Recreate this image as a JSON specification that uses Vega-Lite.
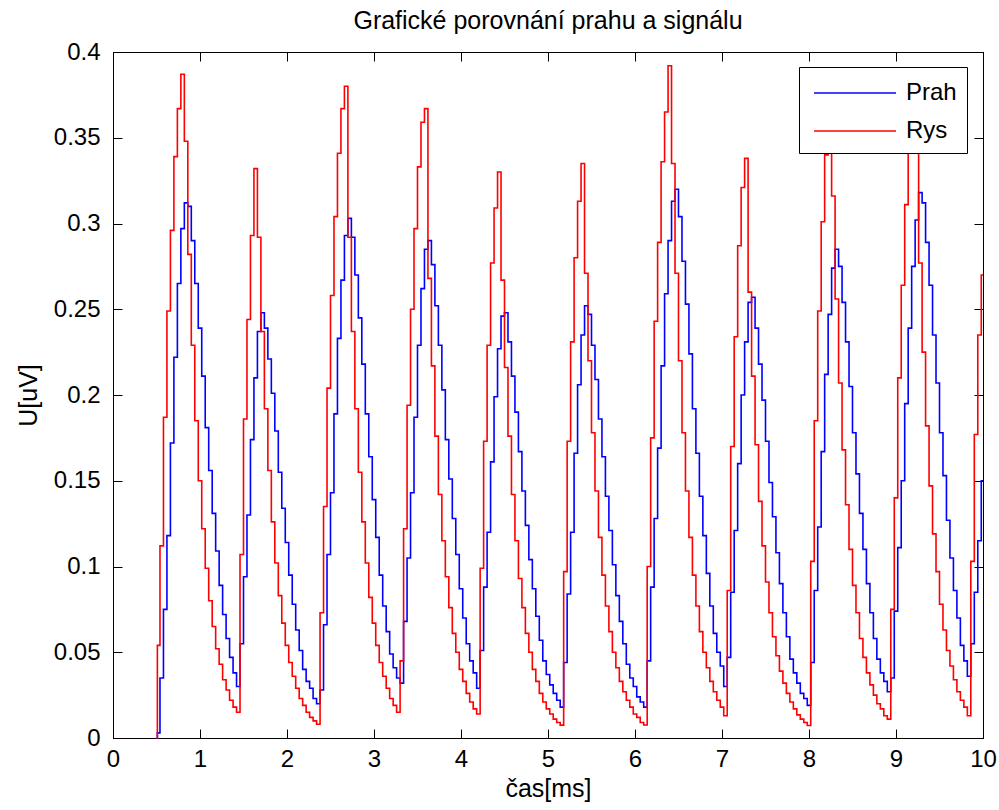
{
  "$schema": "https://vega.github.io/schema/vega-lite/v6.json",
  "width": 870,
  "height": 686,
  "autosize": {"type": "none"},
  "padding": {"left": 113, "top": 52, "right": 16, "bottom": 72},
  "background": "white",
  "title": {"text": "Grafické porovnání prahu a signálu", "fontSize": 25, "fontWeight": "normal", "font": "Liberation Sans", "color": "#000", "anchor": "middle", "baseline": "alphabetic", "offset": -14},
  "config": {
    "view": {"stroke": "#000", "strokeWidth": 1},
    "axis": {"grid": false, "domainColor": "#000", "tickColor": "#000", "labelColor": "#000", "titleColor": "#000", "labelFont": "Liberation Sans", "titleFont": "Liberation Sans", "labelFontSize": 24, "titleFontSize": 25, "titleFontWeight": "normal", "tickSize": -9, "labelFlush": false, "labelOverlap": false}
  },
  "data": {"values": [
    {"t":0.50,"Prah":0,"Rys":0},
    {"t":0.52,"Prah":0.003,"Rys":0.054},
    {"t":0.56,"Prah":0.035,"Rys":0.112},
    {"t":0.60,"Prah":0.075,"Rys":0.187},
    {"t":0.64,"Prah":0.118,"Rys":0.249},
    {"t":0.68,"Prah":0.172,"Rys":0.296},
    {"t":0.72,"Prah":0.222,"Rys":0.339},
    {"t":0.76,"Prah":0.265,"Rys":0.367},
    {"t":0.80,"Prah":0.297,"Rys":0.387},
    {"t":0.84,"Prah":0.312,"Rys":0.348},
    {"t":0.88,"Prah":0.310,"Rys":0.282},
    {"t":0.92,"Prah":0.290,"Rys":0.229},
    {"t":0.96,"Prah":0.265,"Rys":0.185},
    {"t":1.00,"Prah":0.239,"Rys":0.150},
    {"t":1.04,"Prah":0.211,"Rys":0.122},
    {"t":1.08,"Prah":0.181,"Rys":0.099},
    {"t":1.12,"Prah":0.156,"Rys":0.080},
    {"t":1.16,"Prah":0.131,"Rys":0.065},
    {"t":1.20,"Prah":0.109,"Rys":0.052},
    {"t":1.24,"Prah":0.089,"Rys":0.043},
    {"t":1.28,"Prah":0.072,"Rys":0.034},
    {"t":1.32,"Prah":0.058,"Rys":0.028},
    {"t":1.36,"Prah":0.047,"Rys":0.022},
    {"t":1.40,"Prah":0.038,"Rys":0.018},
    {"t":1.44,"Prah":0.030,"Rys":0.015},
    {"t":1.48,"Prah":0.055,"Rys":0.107},
    {"t":1.52,"Prah":0.094,"Rys":0.186},
    {"t":1.56,"Prah":0.130,"Rys":0.244},
    {"t":1.60,"Prah":0.174,"Rys":0.293},
    {"t":1.64,"Prah":0.210,"Rys":0.332},
    {"t":1.68,"Prah":0.237,"Rys":0.292},
    {"t":1.72,"Prah":0.248,"Rys":0.237},
    {"t":1.76,"Prah":0.239,"Rys":0.192},
    {"t":1.80,"Prah":0.221,"Rys":0.156},
    {"t":1.84,"Prah":0.201,"Rys":0.126},
    {"t":1.88,"Prah":0.179,"Rys":0.102},
    {"t":1.92,"Prah":0.155,"Rys":0.083},
    {"t":1.96,"Prah":0.134,"Rys":0.067},
    {"t":2.00,"Prah":0.114,"Rys":0.054},
    {"t":2.04,"Prah":0.095,"Rys":0.044},
    {"t":2.08,"Prah":0.078,"Rys":0.036},
    {"t":2.12,"Prah":0.063,"Rys":0.029},
    {"t":2.16,"Prah":0.051,"Rys":0.023},
    {"t":2.20,"Prah":0.040,"Rys":0.019},
    {"t":2.24,"Prah":0.033,"Rys":0.015},
    {"t":2.28,"Prah":0.029,"Rys":0.012},
    {"t":2.32,"Prah":0.023,"Rys":0.010},
    {"t":2.36,"Prah":0.020,"Rys":0.008},
    {"t":2.40,"Prah":0.028,"Rys":0.073},
    {"t":2.44,"Prah":0.066,"Rys":0.135},
    {"t":2.48,"Prah":0.107,"Rys":0.204},
    {"t":2.52,"Prah":0.143,"Rys":0.258},
    {"t":2.56,"Prah":0.189,"Rys":0.304},
    {"t":2.60,"Prah":0.233,"Rys":0.341},
    {"t":2.64,"Prah":0.267,"Rys":0.367},
    {"t":2.68,"Prah":0.293,"Rys":0.380},
    {"t":2.72,"Prah":0.303,"Rys":0.292},
    {"t":2.76,"Prah":0.292,"Rys":0.237},
    {"t":2.80,"Prah":0.270,"Rys":0.192},
    {"t":2.84,"Prah":0.245,"Rys":0.155},
    {"t":2.88,"Prah":0.218,"Rys":0.126},
    {"t":2.92,"Prah":0.189,"Rys":0.102},
    {"t":2.96,"Prah":0.164,"Rys":0.082},
    {"t":3.00,"Prah":0.139,"Rys":0.067},
    {"t":3.04,"Prah":0.117,"Rys":0.054},
    {"t":3.08,"Prah":0.095,"Rys":0.044},
    {"t":3.12,"Prah":0.077,"Rys":0.036},
    {"t":3.16,"Prah":0.062,"Rys":0.029},
    {"t":3.20,"Prah":0.049,"Rys":0.023},
    {"t":3.24,"Prah":0.041,"Rys":0.019},
    {"t":3.28,"Prah":0.035,"Rys":0.015},
    {"t":3.32,"Prah":0.032,"Rys":0.045},
    {"t":3.36,"Prah":0.068,"Rys":0.122},
    {"t":3.40,"Prah":0.105,"Rys":0.194},
    {"t":3.44,"Prah":0.143,"Rys":0.250},
    {"t":3.48,"Prah":0.187,"Rys":0.297},
    {"t":3.52,"Prah":0.229,"Rys":0.333},
    {"t":3.56,"Prah":0.262,"Rys":0.359},
    {"t":3.60,"Prah":0.285,"Rys":0.367},
    {"t":3.64,"Prah":0.290,"Rys":0.268},
    {"t":3.68,"Prah":0.276,"Rys":0.217},
    {"t":3.72,"Prah":0.252,"Rys":0.176},
    {"t":3.76,"Prah":0.229,"Rys":0.142},
    {"t":3.80,"Prah":0.203,"Rys":0.115},
    {"t":3.84,"Prah":0.174,"Rys":0.094},
    {"t":3.88,"Prah":0.151,"Rys":0.076},
    {"t":3.92,"Prah":0.128,"Rys":0.061},
    {"t":3.96,"Prah":0.107,"Rys":0.050},
    {"t":4.00,"Prah":0.087,"Rys":0.040},
    {"t":4.04,"Prah":0.070,"Rys":0.033},
    {"t":4.08,"Prah":0.055,"Rys":0.026},
    {"t":4.12,"Prah":0.045,"Rys":0.021},
    {"t":4.16,"Prah":0.038,"Rys":0.017},
    {"t":4.20,"Prah":0.029,"Rys":0.014},
    {"t":4.24,"Prah":0.051,"Rys":0.099},
    {"t":4.28,"Prah":0.088,"Rys":0.173},
    {"t":4.32,"Prah":0.120,"Rys":0.229},
    {"t":4.36,"Prah":0.161,"Rys":0.277},
    {"t":4.40,"Prah":0.199,"Rys":0.309},
    {"t":4.44,"Prah":0.227,"Rys":0.330},
    {"t":4.48,"Prah":0.246,"Rys":0.267},
    {"t":4.52,"Prah":0.248,"Rys":0.216},
    {"t":4.56,"Prah":0.231,"Rys":0.176},
    {"t":4.60,"Prah":0.211,"Rys":0.142},
    {"t":4.64,"Prah":0.190,"Rys":0.115},
    {"t":4.68,"Prah":0.167,"Rys":0.093},
    {"t":4.72,"Prah":0.144,"Rys":0.076},
    {"t":4.76,"Prah":0.124,"Rys":0.061},
    {"t":4.80,"Prah":0.104,"Rys":0.050},
    {"t":4.84,"Prah":0.087,"Rys":0.040},
    {"t":4.88,"Prah":0.071,"Rys":0.033},
    {"t":4.92,"Prah":0.057,"Rys":0.026},
    {"t":4.96,"Prah":0.045,"Rys":0.021},
    {"t":5.00,"Prah":0.037,"Rys":0.017},
    {"t":5.04,"Prah":0.031,"Rys":0.014},
    {"t":5.08,"Prah":0.026,"Rys":0.011},
    {"t":5.12,"Prah":0.022,"Rys":0.009},
    {"t":5.16,"Prah":0.018,"Rys":0.0075},
    {"t":5.20,"Prah":0.044,"Rys":0.097},
    {"t":5.24,"Prah":0.084,"Rys":0.173},
    {"t":5.28,"Prah":0.120,"Rys":0.231},
    {"t":5.32,"Prah":0.166,"Rys":0.280},
    {"t":5.36,"Prah":0.206,"Rys":0.313},
    {"t":5.40,"Prah":0.235,"Rys":0.335},
    {"t":5.44,"Prah":0.252,"Rys":0.271},
    {"t":5.48,"Prah":0.247,"Rys":0.220},
    {"t":5.52,"Prah":0.229,"Rys":0.178},
    {"t":5.56,"Prah":0.209,"Rys":0.144},
    {"t":5.60,"Prah":0.186,"Rys":0.117},
    {"t":5.64,"Prah":0.164,"Rys":0.095},
    {"t":5.68,"Prah":0.141,"Rys":0.077},
    {"t":5.72,"Prah":0.121,"Rys":0.062},
    {"t":5.76,"Prah":0.101,"Rys":0.050},
    {"t":5.80,"Prah":0.083,"Rys":0.041},
    {"t":5.84,"Prah":0.068,"Rys":0.033},
    {"t":5.88,"Prah":0.055,"Rys":0.027},
    {"t":5.92,"Prah":0.043,"Rys":0.022},
    {"t":5.96,"Prah":0.035,"Rys":0.018},
    {"t":6.00,"Prah":0.030,"Rys":0.014},
    {"t":6.04,"Prah":0.024,"Rys":0.012},
    {"t":6.08,"Prah":0.021,"Rys":0.009},
    {"t":6.12,"Prah":0.018,"Rys":0.0076},
    {"t":6.16,"Prah":0.045,"Rys":0.100},
    {"t":6.20,"Prah":0.088,"Rys":0.175},
    {"t":6.24,"Prah":0.128,"Rys":0.243},
    {"t":6.28,"Prah":0.169,"Rys":0.289},
    {"t":6.32,"Prah":0.217,"Rys":0.336},
    {"t":6.36,"Prah":0.259,"Rys":0.365},
    {"t":6.40,"Prah":0.290,"Rys":0.392},
    {"t":6.44,"Prah":0.313,"Rys":0.335},
    {"t":6.48,"Prah":0.320,"Rys":0.271},
    {"t":6.52,"Prah":0.304,"Rys":0.220},
    {"t":6.56,"Prah":0.278,"Rys":0.178},
    {"t":6.60,"Prah":0.253,"Rys":0.144},
    {"t":6.64,"Prah":0.224,"Rys":0.117},
    {"t":6.68,"Prah":0.192,"Rys":0.095},
    {"t":6.72,"Prah":0.166,"Rys":0.077},
    {"t":6.76,"Prah":0.141,"Rys":0.062},
    {"t":6.80,"Prah":0.118,"Rys":0.050},
    {"t":6.84,"Prah":0.096,"Rys":0.041},
    {"t":6.88,"Prah":0.077,"Rys":0.033},
    {"t":6.92,"Prah":0.061,"Rys":0.027},
    {"t":6.96,"Prah":0.050,"Rys":0.022},
    {"t":7.00,"Prah":0.042,"Rys":0.018},
    {"t":7.04,"Prah":0.030,"Rys":0.013},
    {"t":7.08,"Prah":0.047,"Rys":0.086},
    {"t":7.12,"Prah":0.085,"Rys":0.170},
    {"t":7.16,"Prah":0.121,"Rys":0.234},
    {"t":7.20,"Prah":0.160,"Rys":0.287},
    {"t":7.24,"Prah":0.200,"Rys":0.321},
    {"t":7.28,"Prah":0.231,"Rys":0.338},
    {"t":7.32,"Prah":0.254,"Rys":0.260},
    {"t":7.36,"Prah":0.257,"Rys":0.211},
    {"t":7.40,"Prah":0.239,"Rys":0.171},
    {"t":7.44,"Prah":0.218,"Rys":0.138},
    {"t":7.48,"Prah":0.197,"Rys":0.112},
    {"t":7.52,"Prah":0.173,"Rys":0.091},
    {"t":7.56,"Prah":0.149,"Rys":0.073},
    {"t":7.60,"Prah":0.129,"Rys":0.059},
    {"t":7.64,"Prah":0.108,"Rys":0.048},
    {"t":7.68,"Prah":0.090,"Rys":0.039},
    {"t":7.72,"Prah":0.073,"Rys":0.032},
    {"t":7.76,"Prah":0.059,"Rys":0.026},
    {"t":7.80,"Prah":0.046,"Rys":0.021},
    {"t":7.84,"Prah":0.038,"Rys":0.017},
    {"t":7.88,"Prah":0.032,"Rys":0.0135},
    {"t":7.92,"Prah":0.026,"Rys":0.011},
    {"t":7.96,"Prah":0.023,"Rys":0.009},
    {"t":8.00,"Prah":0.019,"Rys":0.0073},
    {"t":8.04,"Prah":0.044,"Rys":0.103},
    {"t":8.08,"Prah":0.086,"Rys":0.185},
    {"t":8.12,"Prah":0.123,"Rys":0.249},
    {"t":8.16,"Prah":0.167,"Rys":0.301},
    {"t":8.20,"Prah":0.212,"Rys":0.340},
    {"t":8.24,"Prah":0.247,"Rys":0.370},
    {"t":8.28,"Prah":0.274,"Rys":0.316},
    {"t":8.32,"Prah":0.285,"Rys":0.256},
    {"t":8.36,"Prah":0.275,"Rys":0.207},
    {"t":8.40,"Prah":0.254,"Rys":0.168},
    {"t":8.44,"Prah":0.231,"Rys":0.136},
    {"t":8.48,"Prah":0.205,"Rys":0.110},
    {"t":8.52,"Prah":0.178,"Rys":0.089},
    {"t":8.56,"Prah":0.154,"Rys":0.073},
    {"t":8.60,"Prah":0.131,"Rys":0.058},
    {"t":8.64,"Prah":0.110,"Rys":0.047},
    {"t":8.68,"Prah":0.090,"Rys":0.038},
    {"t":8.72,"Prah":0.073,"Rys":0.031},
    {"t":8.76,"Prah":0.058,"Rys":0.025},
    {"t":8.80,"Prah":0.046,"Rys":0.020},
    {"t":8.84,"Prah":0.038,"Rys":0.017},
    {"t":8.88,"Prah":0.033,"Rys":0.013},
    {"t":8.92,"Prah":0.027,"Rys":0.011},
    {"t":8.96,"Prah":0.035,"Rys":0.075},
    {"t":9.00,"Prah":0.074,"Rys":0.140},
    {"t":9.04,"Prah":0.111,"Rys":0.210},
    {"t":9.08,"Prah":0.150,"Rys":0.264},
    {"t":9.12,"Prah":0.195,"Rys":0.311},
    {"t":9.16,"Prah":0.239,"Rys":0.350},
    {"t":9.20,"Prah":0.275,"Rys":0.380},
    {"t":9.24,"Prah":0.302,"Rys":0.342},
    {"t":9.28,"Prah":0.318,"Rys":0.277},
    {"t":9.32,"Prah":0.312,"Rys":0.225},
    {"t":9.36,"Prah":0.289,"Rys":0.182},
    {"t":9.40,"Prah":0.264,"Rys":0.147},
    {"t":9.44,"Prah":0.235,"Rys":0.119},
    {"t":9.48,"Prah":0.207,"Rys":0.097},
    {"t":9.52,"Prah":0.178,"Rys":0.078},
    {"t":9.56,"Prah":0.153,"Rys":0.063},
    {"t":9.60,"Prah":0.127,"Rys":0.051},
    {"t":9.64,"Prah":0.105,"Rys":0.042},
    {"t":9.68,"Prah":0.086,"Rys":0.034},
    {"t":9.72,"Prah":0.070,"Rys":0.027},
    {"t":9.76,"Prah":0.054,"Rys":0.022},
    {"t":9.80,"Prah":0.045,"Rys":0.018},
    {"t":9.84,"Prah":0.036,"Rys":0.013},
    {"t":9.88,"Prah":0.055,"Rys":0.103},
    {"t":9.92,"Prah":0.085,"Rys":0.177},
    {"t":9.96,"Prah":0.115,"Rys":0.235},
    {"t":10.00,"Prah":0.150,"Rys":0.270}
  ]},
  "transform": [{"fold": ["Prah", "Rys"], "as": ["series", "value"]}],
  "layer": [
    {
      "mark": {"type": "line", "interpolate": "step", "strokeWidth": 1.6},
      "encoding": {
        "x": {"field": "t", "type": "quantitative", "scale": {"domain": [0, 10], "nice": false, "zero": false},
              "axis": {"orient": "bottom", "values": [0,1,2,3,4,5,6,7,8,9,10], "format": "d", "labelPadding": 18, "title": "čas[ms]", "titlePadding": 5}},
        "y": {"field": "value", "type": "quantitative", "scale": {"domain": [0, 0.4], "nice": false},
              "axis": {"orient": "left", "values": [0,0.05,0.1,0.15,0.2,0.25,0.3,0.35,0.4], "format": "~g", "labelPadding": 22, "title": "U[uV]", "titlePadding": 12}},
        "color": {"field": "series", "type": "nominal",
                  "scale": {"domain": ["Prah", "Rys"], "range": ["#0000ff", "#ff0000"]},
                  "legend": {"orient": "none", "legendX": 686, "legendY": 15, "title": null, "symbolType": "M-2.7,0H2.7", "symbolSize": 924, "symbolStrokeWidth": 1.6, "labelFontSize": 24, "labelFont": "Liberation Sans", "labelColor": "#000", "labelOffset": 35, "padding": 10, "rowPadding": 10, "strokeColor": "#000", "fillColor": "#fff", "cornerRadius": 0, "symbolOffset": 30}}
      }
    },
    {
      "mark": {"type": "line", "interpolate": "step", "opacity": 0},
      "encoding": {
        "x": {"field": "t", "type": "quantitative", "axis": {"orient": "top", "values": [0,1,2,3,4,5,6,7,8,9,10], "labels": false, "title": null}},
        "y": {"field": "value", "type": "quantitative", "axis": {"orient": "right", "values": [0,0.05,0.1,0.15,0.2,0.25,0.3,0.35,0.4], "labels": false, "title": null}},
        "detail": {"field": "series"}
      }
    }
  ],
  "resolve": {"axis": {"x": "independent", "y": "independent"}}
}
